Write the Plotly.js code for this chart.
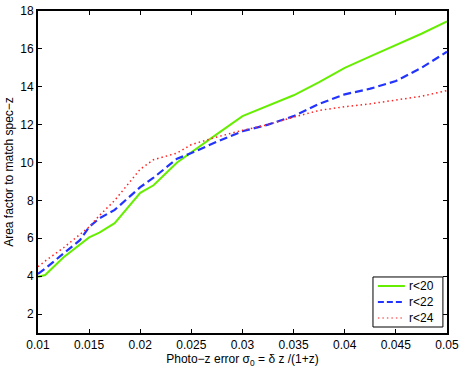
<!DOCTYPE html>
<html lang="en">
<head>
    <meta charset="UTF-8">
    <title>Area factor vs photo-z error</title>
    <script src="https://cdn.plot.ly/plotly-3.0.1.min.js"></script>
    <style>
        body { margin: 0; background: #fff; }
        #plot { width: 463px; height: 372px; }
    </style>
</head>
<body>
    <div id="plot"></div>
    <script>
        // photo-z error sigma_0
        const sigma = [0.01, 0.0107, 0.0125, 0.0141, 0.015, 0.016, 0.0175, 0.02, 0.0213, 0.0236, 0.025,
                       0.0275, 0.03, 0.0325, 0.035, 0.0375, 0.04, 0.0425, 0.045, 0.0475, 0.05];

        // area factor per magnitude limit
        const r20 = [3.97, 4.06, 5.0, 5.7, 6.05, 6.3, 6.8, 8.4, 8.8, 10.0, 10.55,
                     11.5, 12.45, 13.0, 13.55, 14.25, 15.0, 15.6, 16.2, 16.8, 17.45];
        const r22 = [4.12, 4.4, 5.2, 5.9, 6.6, 7.05, 7.5, 8.7, 9.2, 10.2, 10.5,
                     11.1, 11.65, 12.0, 12.45, 13.1, 13.6, 13.9, 14.3, 15.0, 15.85];
        const r24 = [4.5, 4.8, 5.5, 6.2, 6.6, 7.2, 8.0, 9.65, 10.15, 10.5, 10.95,
                     11.35, 11.7, 12.0, 12.4, 12.75, 12.95, 13.1, 13.3, 13.5, 13.8];

        const seriesNames = ['r<20', 'r<22', 'r<24'];
        const xTicks = [0.01, 0.015, 0.02, 0.025, 0.03, 0.035, 0.04, 0.045, 0.05];
        const yTicks = [2, 4, 6, 8, 10, 12, 14, 16, 18];

        const lineStyles = [
            { color: '#66ee00', width: 2, dash: 'solid' },
            { color: '#2233ff', width: 2.2, dash: '8px,4px' },
            { color: '#ff2222', width: 1.5, dash: '1.5px,3px' }
        ];

        const data = [r20, r22, r24].map((ys, i) => ({
            x: sigma, y: ys, name: seriesNames[i], mode: 'lines', type: 'scatter',
            line: lineStyles[i], showlegend: false
        }));

        // hand-made legend box (plotly's rows are too tall for this one)
        const shapes = [{
            type: 'rect', xref: 'paper', yref: 'paper',
            x0: 0.819, x1: 0.99, y0: 0.0186, y1: 0.174,
            line: { color: '#000', width: 1 }, fillcolor: '#fff', layer: 'above'
        }];
        const annotations = [];
        seriesNames.forEach((name, i) => {
            const rowY = 0.146 - i * 0.0497;
            shapes.push({
                type: 'line', xref: 'paper', yref: 'paper',
                x0: 0.831, x1: 0.897, y0: rowY, y1: rowY,
                line: { color: lineStyles[i].color, width: i === 2 ? 1.2 : 2,
                        dash: i === 1 ? '6px,3px' : lineStyles[i].dash },
                layer: 'above'
            });
            annotations.push({
                xref: 'paper', yref: 'paper', x: 0.902, y: rowY,
                xanchor: 'left', yanchor: 'middle', text: name, showarrow: false,
                font: { size: 12, color: '#000' }
            });
        });

        const axisBase = {
            showline: true, linecolor: '#000', linewidth: 2, mirror: 'ticks',
            ticks: 'inside', ticklen: 4, tickcolor: '#000', tickwidth: 1,
            showgrid: false, zeroline: false,
            tickfont: { size: 12, color: '#000' }
        };

        const layout = {
            width: 463, height: 372,
            margin: { l: 38, r: 16, t: 11, b: 39 },
            paper_bgcolor: '#fff', plot_bgcolor: '#fff',
            font: { family: 'Liberation Sans, Arial, sans-serif', color: '#000', size: 12 },
            xaxis: Object.assign({}, axisBase, {
                range: [0.01, 0.05], tickvals: xTicks,
                ticktext: xTicks.map(String),
                title: { text: 'Photo\u2212z error σ<sub>0</sub> = δ z /(1+z)', standoff: 2,
                         font: { size: 12 } }
            }),
            yaxis: Object.assign({}, axisBase, {
                range: [1, 18], tickvals: yTicks,
                title: { text: 'Area factor to match spec\u2212z', standoff: 4,
                         font: { size: 12 } }
            }),
            showlegend: false,
            shapes: shapes,
            annotations: annotations
        };

        Plotly.newPlot('plot', data, layout, { displayModeBar: false, staticPlot: true });
    </script>
</body>
</html>
